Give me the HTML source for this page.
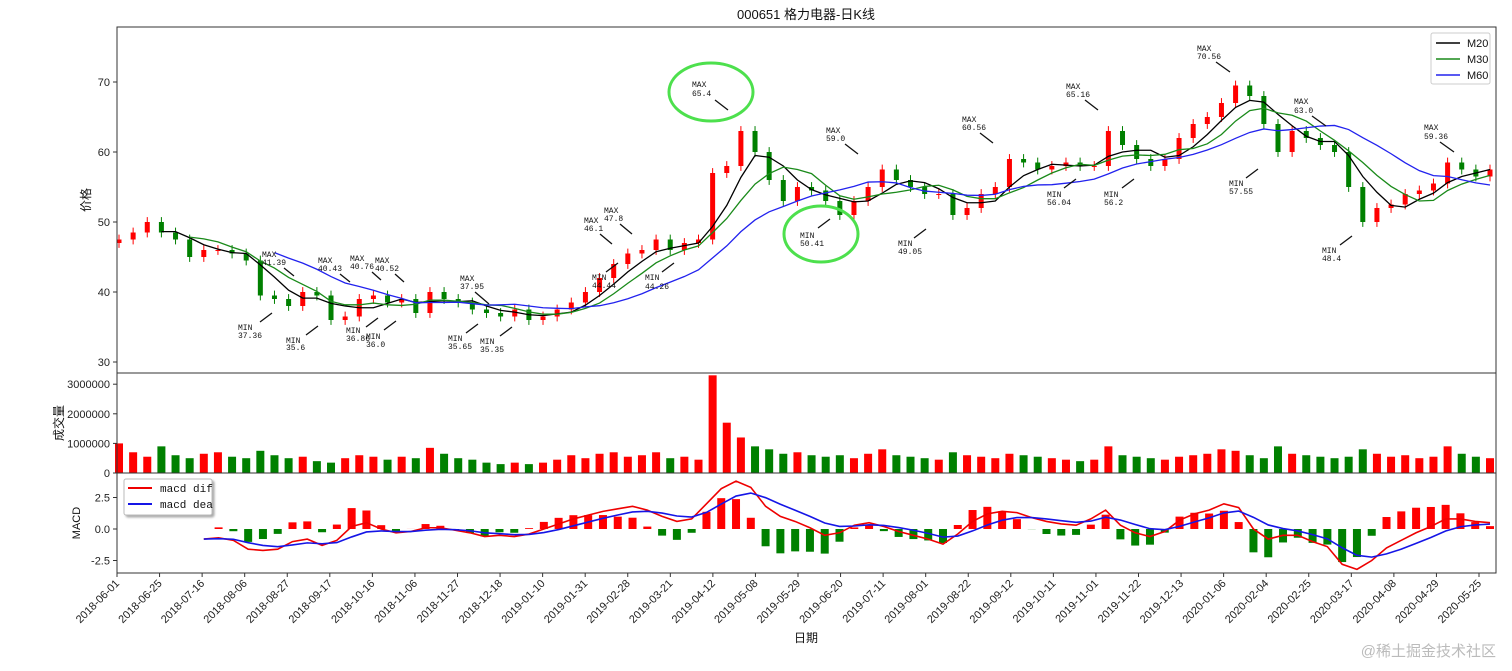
<!DOCTYPE html>
<html><head><meta charset="utf-8"><style>
html,body{margin:0;padding:0;background:#fff;}
svg{display:block;font-family:"Liberation Sans","Noto Sans CJK SC",sans-serif;}
.t{font-size:11px;fill:#222}
.a{font-family:"Liberation Mono","Noto Sans CJK SC",monospace;font-size:8px;fill:#111}
</style></head><body>
<svg id="chart" width="1512" height="671" viewBox="0 0 1512 671" xmlns="http://www.w3.org/2000/svg">
<rect width="1512" height="671" fill="#fff"/>
<text x="806" y="19" text-anchor="middle" font-size="13" fill="#111">000651 格力电器-日K线</text>
<g id="price"></g>
<g id="vol"></g>
<g id="macd"></g>
<g id="axes"></g>
<g>
<text class="a" x="262" y="257">MAX</text><text class="a" x="262" y="265">41.39</text>
<text class="a" x="318" y="263">MAX</text><text class="a" x="318" y="271">40.43</text>
<text class="a" x="350" y="261">MAX</text><text class="a" x="350" y="269">40.76</text>
<text class="a" x="375" y="263">MAX</text><text class="a" x="375" y="271">40.52</text>
<text class="a" x="460" y="281">MAX</text><text class="a" x="460" y="289">37.95</text>
<text class="a" x="584" y="223">MAX</text><text class="a" x="584" y="231">46.1</text>
<text class="a" x="604" y="213">MAX</text><text class="a" x="604" y="221">47.8</text>
<text class="a" x="692" y="87">MAX</text><text class="a" x="692" y="96">65.4</text>
<text class="a" x="826" y="133">MAX</text><text class="a" x="826" y="141">59.0</text>
<text class="a" x="962" y="122">MAX</text><text class="a" x="962" y="130">60.56</text>
<text class="a" x="1066" y="89">MAX</text><text class="a" x="1066" y="97">65.16</text>
<text class="a" x="1197" y="51">MAX</text><text class="a" x="1197" y="59">70.56</text>
<text class="a" x="1294" y="104">MAX</text><text class="a" x="1294" y="113">63.0</text>
<text class="a" x="1424" y="130">MAX</text><text class="a" x="1424" y="139">59.36</text>
<text class="a" x="238" y="330">MIN</text><text class="a" x="238" y="338">37.36</text>
<text class="a" x="286" y="343">MIN</text><text class="a" x="286" y="350">35.6</text>
<text class="a" x="346" y="333">MIN</text><text class="a" x="346" y="341">36.86</text>
<text class="a" x="366" y="339">MIN</text><text class="a" x="366" y="347">36.0</text>
<text class="a" x="448" y="341">MIN</text><text class="a" x="448" y="349">35.65</text>
<text class="a" x="480" y="344">MIN</text><text class="a" x="480" y="352">35.35</text>
<text class="a" x="592" y="280">MIN</text><text class="a" x="592" y="288">44.44</text>
<text class="a" x="645" y="280">MIN</text><text class="a" x="645" y="289">44.26</text>
<text class="a" x="800" y="238">MIN</text><text class="a" x="800" y="246">50.41</text>
<text class="a" x="898" y="246">MIN</text><text class="a" x="898" y="254">49.05</text>
<text class="a" x="1047" y="197">MIN</text><text class="a" x="1047" y="205">56.04</text>
<text class="a" x="1104" y="197">MIN</text><text class="a" x="1104" y="205">56.2</text>
<text class="a" x="1229" y="186">MIN</text><text class="a" x="1229" y="194">57.55</text>
<text class="a" x="1322" y="253">MIN</text><text class="a" x="1322" y="261">48.4</text>
<g stroke="#111" stroke-width="1.3">
<path d="M284 268l10 8M340 274l10 8M372 272l9 8M395 274l9 8M475 292l14 12M600 234l12 10M620 224l12 10M715 100l13 10M845 144l13 10M980 133l13 10M1085 100l13 10M1216 62l14 10M1312 116l14 10M1440 142l14 10"/>
<path d="M260 322l12-9M306 335l12-9M366 327l12-9M384 330l12-9M466 333l12-9M500 336l12-9M606 272l12-9M662 272l12-9M818 228l12-9M914 238l12-9M1064 188l12-9M1122 188l12-9M1246 178l12-9M1340 245l12-9"/>
</g>
<ellipse cx="711" cy="92" rx="42" ry="29" fill="none" stroke="#4de04d" stroke-width="3"/>
<ellipse cx="821" cy="234" rx="37" ry="28" fill="none" stroke="#4de04d" stroke-width="3"/>
<text x="1496" y="656" text-anchor="end" font-size="15" fill="#bbb">@稀土掘金技术社区</text>
</g>
</svg>
<script>
const closes=[47.5,48.5,50,48.5,47.5,45,46,46,45.5,44.5,39.5,39,38,40,39.5,36,36.5,39,39.5,38.5,39,37,40,39,38.5,37.5,37,36.5,37.5,36,36.5,37.5,38.5,40,42,44,45.5,46,47.5,46,47,47.5,57,58,63,60,56,53,55,54.5,53,51,53,55,57.5,56,55,54,54,51,52,54,55,59,58.5,57.5,58,58.5,58,58,63,61,59,58,59,62,64,65,67,69.5,68,64,60,63,62,61,60,55,50,52,52.5,54,54.5,55.5,58.5,57.5,56.5,57.5];
const volumes=[1000000,700000,550000,900000,600000,500000,650000,700000,550000,500000,750000,600000,500000,550000,400000,350000,500000,600000,550000,450000,550000,500000,850000,650000,500000,450000,350000,300000,350000,300000,350000,450000,600000,500000,650000,700000,550000,600000,700000,500000,550000,450000,3300000,1700000,1200000,900000,800000,650000,700000,600000,550000,600000,500000,650000,800000,600000,550000,500000,450000,700000,600000,550000,500000,650000,600000,550000,500000,450000,400000,450000,900000,600000,550000,500000,450000,550000,600000,650000,800000,750000,600000,500000,900000,650000,600000,550000,500000,550000,800000,650000,550000,600000,500000,550000,900000,650000,550000,500000];
const macdDif=[-0.8,-0.7,-0.9,-1.6,-1.7,-1.6,-1.0,-0.8,-1.3,-0.9,0.2,0.5,0.0,-0.3,-0.2,0.1,0.1,-0.1,-0.3,-0.6,-0.5,-0.6,-0.4,0.0,0.4,0.8,1.1,1.4,1.6,1.8,1.5,1.0,0.6,0.8,2.0,3.2,3.8,3.3,1.8,1.0,0.6,0.1,-0.5,-0.3,0.3,0.5,0.2,-0.2,-0.5,-0.8,-1.2,-0.4,0.6,1.2,1.4,1.3,0.9,0.6,0.4,0.3,0.8,1.5,0.3,-0.3,-0.6,-0.2,0.7,1.2,1.5,2.0,1.7,0.0,-0.8,-0.5,-0.5,-1.0,-1.4,-2.8,-3.2,-2.5,-1.5,-0.9,-0.3,0.2,0.8,0.8,0.6,0.5];
const priceTicks=[30,40,50,60,70];
const volTicks=[0,1000000,2000000,3000000];
const macdTicks=[-2.5,0,2.5];
const dateLabels=["2018-06-01","2018-06-25","2018-07-16","2018-08-06","2018-08-27","2018-09-17","2018-10-16","2018-11-06","2018-11-27","2018-12-18","2019-01-10","2019-01-31","2019-02-28","2019-03-21","2019-04-12","2019-05-08","2019-05-29","2019-06-20","2019-07-11","2019-08-01","2019-08-22","2019-09-12","2019-10-11","2019-11-01","2019-11-22","2019-12-13","2020-01-06","2020-02-04","2020-02-25","2020-03-17","2020-04-08","2020-04-29","2020-05-25"];

const NS="http://www.w3.org/2000/svg";
const L=117,R=1496,X0=119,X1=1490;
const N=closes.length;
const xS=i=>X0+i*(X1-X0)/(N-1);
const yP=p=>362-(p-30)*7.0;
const yV=v=>473-v*29.6/1000000;
const yM=m=>529-m*12.6;
const macdStart=6;
const xM=j=>xS(macdStart+j*(N-1-macdStart)/(macdDif.length-1));
function mk(tag,at,parent){const e=document.createElementNS(NS,tag);for(const k in at)e.setAttribute(k,at[k]);parent.appendChild(e);return e;}
const gP=document.getElementById('price'),gV=document.getElementById('vol'),gM=document.getElementById('macd'),gA=document.getElementById('axes');
const RED="#f00",GRN="#008000";
closes.forEach((c,i)=>{
  const o=i?closes[i-1]:c-0.5;const up=c>=o;
  const hi=Math.max(o,c)+0.7,lo=Math.min(o,c)-0.7;
  const col=up?RED:GRN;const x=xS(i);
  const w=mk('line',{x1:x,x2:x,y1:yP(hi),y2:yP(lo),stroke:col,'stroke-width':1},gP);
  
  
  const b=mk('rect',{x:x-2.5,y:yP(Math.max(o,c)),width:5,height:Math.max(1,Math.abs(o-c)*7.0),fill:col},gP);
  
  
});
function ma(n){const r=[];for(let i=n-1;i<N;i++){let s=0;for(let k=i-n+1;k<=i;k++)s+=closes[k];r.push([i,s/n]);}return r;}
[[4,'#000','ma20-line'],[6,'#1a8a1a','ma30-line'],[12,'#2222ee','ma60-line']].forEach(([n,col,name])=>{
  const pts=ma(n).map(([i,v])=>xS(i)+','+yP(v)).join(' ');
  const l=mk('polyline',{points:pts,fill:'none',stroke:col,'stroke-width':1.3},gP);
  
  
});
volumes.forEach((v,i)=>{
  const o=i?closes[i-1]:closes[0]-0.5;const up=closes[i]>=o;
  const b=mk('rect',{x:xS(i)-4,y:yV(v),width:8,height:473-yV(v),fill:up?RED:GRN},gV);
  
  
});
const dea=[];macdDif.forEach((d,j)=>dea.push(j?dea[j-1]+0.35*(d-dea[j-1]):d));
macdDif.forEach((d,j)=>{
  const h=(d-dea[j])*2;const y0=yM(0),y1=yM(h);
  const b=mk('rect',{x:xM(j)-4,y:Math.min(y0,y1),width:8,height:Math.abs(y1-y0),fill:h>=0?RED:GRN},gM);
  
  
});
const ld=mk('polyline',{points:macdDif.map((d,j)=>xM(j)+','+yM(d)).join(' '),fill:'none',stroke:'#e00','stroke-width':1.6},gM);


const le=mk('polyline',{points:dea.map((d,j)=>xM(j)+','+yM(d)).join(' '),fill:'none',stroke:'#1515e6','stroke-width':1.6},gM);


[[27,373],[373,473],[473,573]].forEach(([t,b])=>{
  const r=mk('rect',{x:L,y:t,width:R-L,height:b-t,fill:'none',stroke:'#333','stroke-width':1},gA);
  
  
});
function ytick(y,label,name){
  mk('line',{x1:L-4,x2:L,y1:y,y2:y,stroke:'#333'},gA);
  const t=mk('text',{x:L-7,y:y+4,'text-anchor':'end',class:'t'},gA);t.textContent=label;
  
  
}
priceTicks.forEach(p=>ytick(yP(p),String(p),'price-tick-label'));
volTicks.forEach(v=>ytick(yV(v),String(v),'volume-tick-label'));
macdTicks.forEach(m=>ytick(yM(m),m.toFixed(1),'macd-tick-label'));
const T0=117,T1=1479;
dateLabels.forEach((d,k)=>{
  const x=T0+k*(T1-T0)/(dateLabels.length-1);
  mk('line',{x1:x,x2:x,y1:573,y2:577,stroke:'#333'},gA);
  const t=mk('text',{x:x+3,y:584,'text-anchor':'end',class:'t',transform:`rotate(-45 ${x+3} 584)`},gA);t.textContent=d;
  
  
});
function lab(txt,x,y,rot,name,fs){const t=mk('text',{x:x,y:y,'text-anchor':'middle','font-size':fs||12,fill:'#111',transform:rot?`rotate(-90 ${x} ${y})`:''},gA);t.textContent=txt;
  
  }
lab('价格',90,200,true,'price-axis-title');
lab('成交量',63,423,true,'volume-axis-title');
lab('MACD',80,523,true,'macd-axis-title',11);
lab('日期',806,642,false,'x-axis-title');
const lg=mk('g',{},gA);


mk('rect',{x:1431,y:33,width:59,height:51,fill:'#fff',stroke:'#ccc',rx:2},lg);
[['M20','#000'],['M30','#1a8a1a'],['M60','#2222ee']].forEach(([n,c],k)=>{
  mk('line',{x1:1436,x2:1460,y1:43+k*16,y2:43+k*16,stroke:c,'stroke-width':1.5},lg);
  const t=mk('text',{x:1467,y:47+k*16,'font-size':11,fill:'#111'},lg);t.textContent=n;
});
const lm=mk('g',{},gA);


mk('rect',{x:124,y:479,width:88,height:36,fill:'#fff',stroke:'#bbb',rx:2,style:'filter:drop-shadow(2px 2px 1px #aaa)'},lm);
[['macd dif','#e00'],['macd dea','#1515e6']].forEach(([n,c],k)=>{
  mk('line',{x1:128,x2:152,y1:488+k*16,y2:488+k*16,stroke:c,'stroke-width':2},lm);
  const t=mk('text',{x:160,y:492+k*16,'font-size':11,'font-family':'Liberation Mono, monospace',fill:'#111'},lm);t.textContent=n;
});
</script>
</body></html>
